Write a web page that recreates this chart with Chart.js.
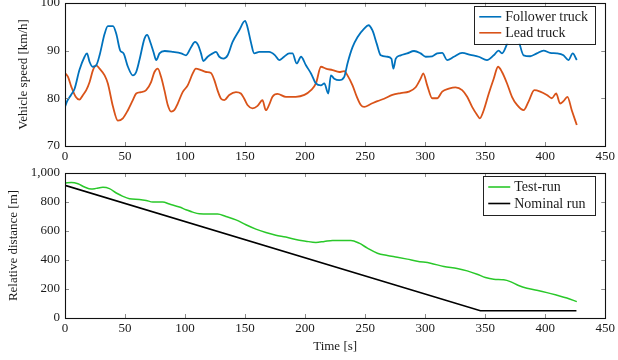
<!DOCTYPE html>
<html>
<head>
<meta charset="utf-8">
<script src="https://cdn.jsdelivr.net/npm/chart.js@4.4.1/dist/chart.umd.min.js"></script>
<style>
  html, body { margin: 0; padding: 0; background: #fff; }
  body { width: 618px; height: 360px; position: relative; overflow: hidden; }
  #speedChart { position: absolute; left: 0; top: -10px; }
  #distChart { position: absolute; left: 0; top: 160px; }
</style>
</head>
<body>
<canvas id="speedChart" width="618" height="175"></canvas>
<canvas id="distChart" width="618" height="200"></canvas>
<script>
// ---- Vehicle speeds [km/h] over time [s] ----
const followerTime = [0,2,5,8,12,16.3,18.3,20.5,23,26,28.8,33,35.7,40,42.7,46,48.8,52.4,56.5,59.3,62,66.2,68.4,71,73.7,76,78.7,83,90,96.7,100.8,105,108.3,111,113.3,115.2,118.8,123,125.8,128.5,131.9,135.5,139.6,145,150,152,154.8,157.6,161.8,170,175,178.4,182.5,186.7,189.5,193,196.6,200.7,204.9,209,213.2,216,219.3,221.5,224.3,228.4,232.6,235.3,239.5,243.6,249.2,252.8,256.1,259.7,263,268.5,271.9,273.5,275.5,279.6,285.1,290.7,296.2,300.4,305.9,310,314.2,318.3,323.9,330.8,337.7,344.6,351.5,357.1,361.2,364,368.2,371,375,378.7,382,387.5,393,398.6,404.1,409.7,415.2,419.3,422.9,426.3];
const followerSpeed = [78.2,79.5,80.7,82,85.9,88.7,89.4,87.6,86.6,86.9,89,93.5,95.1,95.1,93.5,90,89.4,86.6,84.8,85.5,88,92.5,93.3,91.8,89.7,88,89.4,89.9,89.7,89.4,89,90.7,91.8,91.1,89.4,87.8,88.7,89.4,89.7,88.7,88.3,89,91.8,94.2,96.2,94.9,91.8,89.4,89.7,89.7,89,88,88.7,89.4,89.4,87.3,88.7,86.9,85.2,83.1,82.7,83.1,81,84.8,84.1,83.8,84.5,87.3,90.7,92.8,94.6,95.3,94.2,91.4,89,88.7,88.3,86.2,88.3,89,89.4,89.9,89.4,88.7,88.8,89.4,89.5,88,88.7,89.5,89.1,88.7,88,89,90,89.4,91.4,93.5,95.5,91.4,89,88.8,89.4,90,89.5,89.4,89,88,89.4,88];

const leadTime = [0,2.5,5.3,8.9,12,15,17.7,20.5,23.3,26,28.8,33,35.7,40,44,48.2,52.4,56.5,59.3,63.4,67.6,71.7,74.5,77.3,80,82.8,85.6,88.4,91,93.9,98,102.2,106.4,109,113.3,117.5,121.6,124.4,127,130,132.7,136.8,142.4,146.5,149.3,152,156.2,160.4,164.5,167.3,170,172.8,177,184,192.2,199.4,204.9,209,213.2,217.3,222.9,228.4,232.6,235.3,239.5,243.1,246.4,249.2,254.7,260.2,265.8,272.7,279.6,286.5,292.1,296.2,298.4,301.7,305.9,310,314.2,319.7,325.3,330.8,335,339.1,343.3,345.5,348.8,353,357.1,360.7,364,368.2,372.3,376.5,382,386.1,390.9,395.8,401.4,405.5,409.1,412.4,415.2,418.5,422.1,426.3];
const leadSpeed = [85.3,84.5,82.4,80.3,79.7,80.7,81.7,83.4,85.9,86.9,86.2,84.8,83.1,78.2,75.3,75.8,77.5,79.6,81,81.3,81.7,83.4,85.5,86.2,84.5,81.7,78.6,77.2,77.5,78.9,81.3,82.7,85.2,86.2,85.9,85.5,85.3,83.8,81.7,79.9,79.6,80.7,81.3,81,79.9,78.6,77.9,78.4,79.6,77.5,78.6,80.3,80.9,80.3,80.3,80.7,81.7,83.1,86.6,86.2,85.9,85.5,85.7,84.8,82.7,80.3,78.6,78.2,78.8,79.4,79.9,80.7,81.1,81.4,82.3,84.1,85.2,82.7,80,80,81.4,82,82.3,81.7,80.3,78.2,76.5,75.8,77.5,81,84.1,86.6,85.5,83.1,80.3,78.6,77.5,79.3,81.7,81.4,80.7,80,81,78.9,79.4,80.3,77.5,74.4];

// ---- Relative distance [m] over time [s] ----
const testRunTime = [0,5.3,10.8,16.3,21.9,26,31.6,37,42.7,48.2,53.7,62,67.6,73.1,81.4,87,95.3,100.8,106.4,111.9,120.2,127.1,134,142.4,150.7,159,167.3,175.6,183.9,192.2,200.5,209,216,222.9,229.8,238.1,245,251.9,260.2,268.5,276.8,285.1,293.4,304.5,315.6,326.6,335,343.3,350.2,357.1,365.4,370.9,377.8,384.8,393,401.4,409.7,418,426.3];
const testRunDistance = [931,935,926,903,889,894,901,892,862,839,823,818,811,800,800,786,765,747,730,719,717,717,700,677,643,613,590,571,558,541,530,521,528,535,535,535,516,482,447,431,419,406,392,378,355,341,325,302,279,267,263,251,224,205,191,175,157,138,113];

const nominalTime = [0,346,426];
const nominalDistance = [915,50,50];

// ---- Tick values ----
const timeTicks = [0,50,100,150,200,250,300,350,400,450];
const speedTicks = [70,80,90,100];
const distanceTicks = [0,200,400,600,800,1000];

const seriesNames = ['Follower truck','Lead truck','Test-run','Nominal run'];
const seriesColors = ['#0072BD','#D95319','#2AC82A','#000000'];

const FONT = "'Liberation Serif', 'DejaVu Serif', serif";
const TEXT = '#1a1a1a';

const toPoints = (xs, ys) => xs.map((x, i) => ({ x, y: ys[i] }));
const fixedTicks = values => scale => { scale.ticks = values.map(v => ({ value: v })); };

// Box frame on all four sides with short inward tick marks (pgfplots-like)
const frameTicks = {
  id: 'frameTicks',
  afterDatasetsDraw(chart) {
    const { ctx, chartArea: a, scales } = chart;
    const L = 4;
    ctx.save();
    ctx.strokeStyle = '#8c8c8c';
    ctx.lineWidth = 1;
    ctx.beginPath();
    scales.x.ticks.forEach(t => {
      const px = Math.round(scales.x.getPixelForValue(t.value)) + 0.5;
      if (px <= a.left + 1 || px >= a.right - 1) return;
      ctx.moveTo(px, a.bottom); ctx.lineTo(px, a.bottom - L);
      ctx.moveTo(px, a.top); ctx.lineTo(px, a.top + L);
    });
    scales.y.ticks.forEach(t => {
      const py = Math.round(scales.y.getPixelForValue(t.value)) + 0.5;
      if (py <= a.top + 1 || py >= a.bottom - 1) return;
      ctx.moveTo(a.left, py); ctx.lineTo(a.left + L, py);
      ctx.moveTo(a.right, py); ctx.lineTo(a.right - L, py);
    });
    ctx.stroke();
    ctx.strokeStyle = '#111';
    ctx.lineWidth = 1.1;
    ctx.strokeRect(Math.round(a.left) + 0.5, Math.round(a.top) + 0.5,
                   Math.round(a.right - a.left), Math.round(a.bottom - a.top));
    ctx.restore();
  }
};

// Legend drawn inside the plot area, on top of the data
const boxLegend = {
  id: 'boxLegend',
  afterDraw(chart, args, opts) {
    const { ctx, chartArea: a } = chart;
    const x0 = a.right - opts.offsetRight - opts.width;
    const y0 = a.top + opts.offsetTop;
    ctx.save();
    ctx.fillStyle = '#fff';
    ctx.fillRect(x0, y0, opts.width, opts.height);
    ctx.strokeStyle = '#222';
    ctx.lineWidth = 1;
    ctx.strokeRect(Math.round(x0) + 0.5, Math.round(y0) + 0.5, opts.width, opts.height);
    ctx.font = '14px ' + FONT;
    ctx.textBaseline = 'middle';
    ctx.fillStyle = TEXT;
    opts.items.forEach((idx, i) => {
      const cy = y0 + opts.firstRow + i * opts.rowGap;
      ctx.strokeStyle = seriesColors[idx];
      ctx.lineWidth = 1.6;
      ctx.beginPath();
      ctx.moveTo(x0 + 5, cy); ctx.lineTo(x0 + 27, cy);
      ctx.stroke();
      ctx.fillText(seriesNames[idx], x0 + 31, cy + 0.5);
    });
    ctx.restore();
  }
};

function xAxis(height, title) {
  return {
    type: 'linear', min: 0, max: 450,
    afterBuildTicks: fixedTicks(timeTicks),
    afterFit: s => { s.height = height; },
    grid: { display: false, drawTicks: false },
    border: { display: false },
    ticks: { padding: 3, color: TEXT, font: { family: FONT, size: 13 }, maxRotation: 0 },
    title: title
  };
}

function yAxis(min, max, ticks, titleText, titlePad, fmt) {
  return {
    type: 'linear', min, max,
    afterBuildTicks: fixedTicks(ticks),
    afterFit: s => { s.width = 65; },
    grid: { display: false, drawTicks: false },
    border: { display: false },
    ticks: { padding: 5, color: TEXT, font: { family: FONT, size: 13 }, callback: fmt },
    title: { display: true, text: titleText, color: TEXT, font: { family: FONT, size: 13 }, padding: { top: titlePad, bottom: 0 } }
  };
}

const lineStyle = (color, width) => ({
  borderColor: color, backgroundColor: color, borderWidth: width,
  pointRadius: 0, fill: false, cubicInterpolationMode: 'monotone'
});

new Chart(document.getElementById('speedChart'), {
  type: 'line',
  data: {
    datasets: [
      { label: seriesNames[0], data: toPoints(followerTime, followerSpeed), ...lineStyle(seriesColors[0], 1.8) },
      { label: seriesNames[1], data: toPoints(leadTime, leadSpeed), ...lineStyle(seriesColors[1], 1.8) }
    ]
  },
  options: {
    responsive: false, animation: false,
    layout: { padding: { left: 0, right: 11, top: 12, bottom: 0 } },
    scales: {
      x: xAxis(19, { display: false }),
      y: yAxis(70, 100, speedTicks, 'Vehicle speed [km/h]', 16, v => v)
    },
    plugins: {
      legend: { display: false }, tooltip: { enabled: false },
      boxLegend: { items: [0, 1], offsetRight: 10, offsetTop: 3, width: 121, height: 38, firstRow: 11, rowGap: 16 }
    }
  },
  plugins: [frameTicks, boxLegend]
});

new Chart(document.getElementById('distChart'), {
  type: 'line',
  data: {
    datasets: [
      { label: seriesNames[2], data: toPoints(testRunTime, testRunDistance), ...lineStyle(seriesColors[2], 1.5) },
      { label: seriesNames[3], data: toPoints(nominalTime, nominalDistance), ...lineStyle(seriesColors[3], 1.6), cubicInterpolationMode: 'default', tension: 0 }
    ]
  },
  options: {
    responsive: false, animation: false,
    layout: { padding: { left: 0, right: 11, top: 13, bottom: 0 } },
    scales: {
      x: xAxis(42, { display: true, text: 'Time [s]', color: TEXT, font: { family: FONT, size: 13 }, padding: { top: 0, bottom: 6 } }),
      y: yAxis(0, 1000, distanceTicks, 'Relative distance [m]', 6, v => v.toLocaleString('en-US'))
    },
    plugins: {
      legend: { display: false }, tooltip: { enabled: false },
      boxLegend: { items: [2, 3], offsetRight: 10, offsetTop: 3, width: 112, height: 39, firstRow: 11, rowGap: 16.5 }
    }
  },
  plugins: [frameTicks, boxLegend]
});
</script>
</body>
</html>
